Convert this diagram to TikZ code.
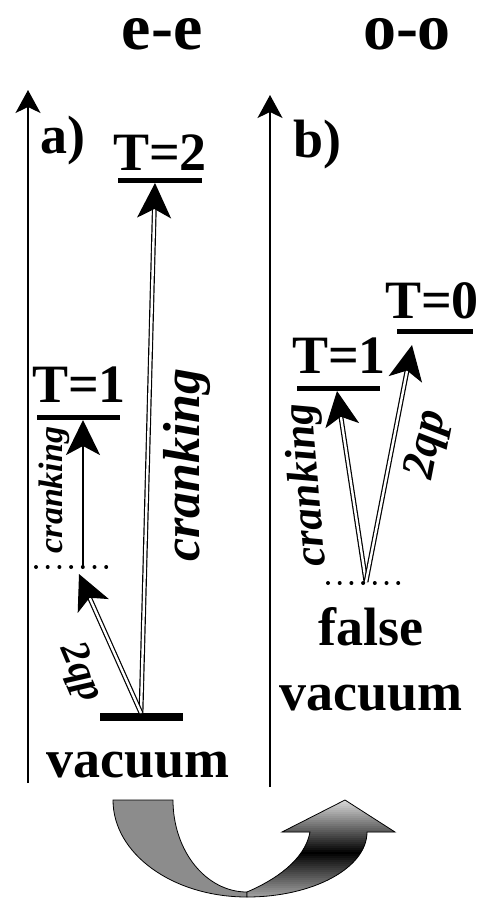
\documentclass[tikz,border=0pt]{standalone}
\usepackage{fontspec}
\setmainfont{Liberation Serif}
\usetikzlibrary{arrows.meta,positioning,calc}

\tikzset{
  axisline/.style={line width=1.5pt, -{Stealth[length=23pt,width=25pt,inset=6pt]}},
  levelbar/.style={line width=5pt},
  gapline/.style={line width=4pt, line cap=round, dash pattern=on 0pt off 11.7pt},
  crank/.style={line width=2.6pt, -{Stealth[length=35pt,width=34pt,inset=9pt]}},
  dbl/.style={double, line width=1.2pt, double distance=2.4pt, -{Stealth[length=35pt,width=34pt,inset=9pt]}},
  big/.style={font=\fontsize{54}{60}\selectfont\bfseries, inner sep=0pt},
  title/.style={font=\fontsize{66}{70}\selectfont\bfseries},
}
% right half of the swap arrow
\newcommand\swaprpath{(247,897) -- (247,892) .. controls (275,880) and (305,860) .. (310,832)
  -- (282,832) -- (345,800) -- (395,832) -- (367,832)
  .. controls (367,868) and (313,897) .. (247,897) -- cycle}

\begin{document}
\begin{tikzpicture}[x=1pt,y=-1pt]
\useasboundingbox (0,0) rectangle (477,899);
% titles
\node[title,anchor=base] (ee) at (162,50) {e-e};
\node[title,anchor=base] (oo) at (407,50) {o-o};
% energy axes
\coordinate (axA0) at (28,783);
\coordinate (axA1) at (28,90);
\coordinate (axB0) at (270,787);
\coordinate (axB1) at (270,95);
\draw[axisline] (axA0) -- (axA1);
\draw[axisline] (axB0) -- (axB1);
\node[big,anchor=base west] (pa) at (40,153) {a)};
\node[big,anchor=base west] (pb) at (293,157) {b)};
% levels
\foreach \xa/\xb/\yy in {118/202/180, 37/120/417, 297/380/388, 397/473/331}
  \draw[levelbar] (\xa,\yy) -- (\xb,\yy);
\draw[line width=8pt] (100,717) -- (183,717);
\draw[gapline] (36,567) -- (117,567);
\draw[gapline] (328,583) -- (408,583);
\node[big,anchor=base] (t2) at (160,170) {T=2};
\node[big,anchor=base] (t1a) at (79,402) {T=1};
\node[big,anchor=base] (t1b) at (339,373) {T=1};
\node[big,anchor=base] (t0) at (432,318) {T=0};
\node[big,anchor=base] (vaca) at (138,777) {vacuum};
\node[big,anchor=base] (falsev) at (371,645) {false};
\node[big,anchor=base] (vacb) at (371,710) {vacuum};
% transitions e-e
\coordinate (vacA) at (141,713);
\coordinate (topA) at (155,183);
\coordinate (midA) at (83,567);
\coordinate (oneA) at (83,420);
\coordinate (qpA) at (79,574);
\draw[dbl] (vacA) -- (topA);
\draw[crank] (midA) -- (oneA);
\draw[dbl] (vacA) -- (qpA);
\node[font=\fontsize{52}{56}\selectfont\bfseries\itshape,rotate=90] (crA) at (187,465) {cranking};
\node[font=\fontsize{34}{38}\selectfont\bfseries\itshape,rotate=90] (crAs) at (54,490) {cranking};
\node[font=\fontsize{40}{44}\selectfont\bfseries\itshape,rotate=-67] (qpLa) at (80,673) {2qp};
% transitions o-o
\coordinate (vacB) at (366,582);
\coordinate (oneB) at (337,391);
\coordinate (zeroB) at (412,345);
\draw[dbl] (vacB) -- (oneB);
\draw[dbl] (vacB) -- (zeroB);
\node[font=\fontsize{44}{48}\selectfont\bfseries\itshape,rotate=95] (crB) at (308,485) {cranking};
\node[font=\fontsize{46}{50}\selectfont\bfseries\itshape,rotate=79] (qpLb) at (428,445) {2qp};
% swap arrow
\fill[black!45,draw=black,line width=0.8pt] (113,800) -- (173,800)
  .. controls (173,851) and (206,892) .. (247,892) -- (247,897)
  .. controls (173,897) and (113,854) .. (113,800) -- cycle;
\begin{scope}
  \clip \swaprpath;
  \foreach \i in {0,...,49} {
    \pgfmathsetmacro\yy{800+2*\i}
    \pgfmathsetmacro\cc{\yy<852 ? 15+85*(\yy-800)/52 : 100-65*(\yy-852)/45}
    \fill[black!\cc] (240,\yy) rectangle (400,\yy+2.6);
  }
\end{scope}
\draw[line width=0.8pt] \swaprpath;
\end{tikzpicture}
\end{document}
